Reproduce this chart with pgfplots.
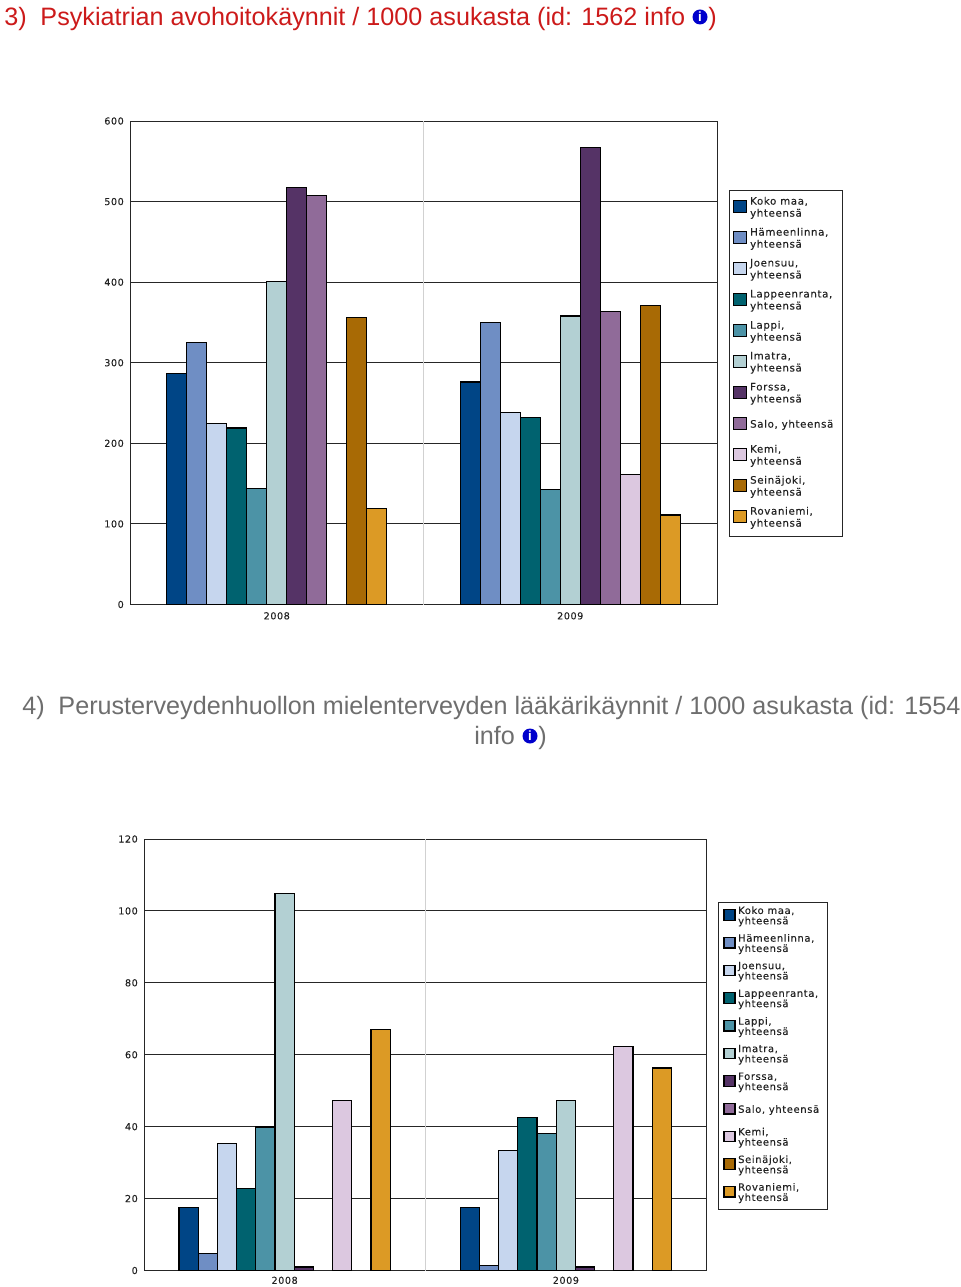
\documentclass[border=0pt]{standalone}
\usepackage{fontspec}
\usepackage{pgfplots}
\pgfplotsset{compat=1.18}
\setmainfont{Liberation Sans}
\newfontfamily\chartfont[LetterSpace=6,FakeBold=0.15]{DejaVu Sans}
\newdimen\px \px=0.75pt

\definecolor{cKoko}{HTML}{004586}
\definecolor{cHame}{HTML}{6F8EC4}
\definecolor{cJoen}{HTML}{C6D6EE}
\definecolor{cLapp}{HTML}{00626F}
\definecolor{cLappi}{HTML}{4C93A6}
\definecolor{cImat}{HTML}{B3D0D3}
\definecolor{cFors}{HTML}{553366}
\definecolor{cSalo}{HTML}{906B99}
\definecolor{cKemi}{HTML}{DCC8E0}
\definecolor{cSein}{HTML}{A86A05}
\definecolor{cRova}{HTML}{DC9A25}
\definecolor{tickcol}{HTML}{222222}
\definecolor{titlered}{HTML}{CC1A1A}
\definecolor{titlegray}{HTML}{6E6E6E}

\newcommand{\twoline}[2]{\parbox[c][\legrow][c]{\legwd}{\lineskiplimit=-5pt\baselineskip=\leglead #1\par #2}}
\newcommand{\infoicon}[2]{%
  \node[circle,fill=blue!80!black,inner sep=0pt,minimum size=15\px,text=white,font=\fontsize{10}{10}\selectfont\bfseries] at (#1\px,-#2\px) {i};}

\pgfplotsset{
  chart/.style={
    scale only axis,
    ybar=0pt,
    xmin=-0.5, xmax=1.5,
    xtick={0,1},
    xticklabels={2008,2009},
    major tick length=0pt,
    ymin=0,
    ymajorgrids,
    major grid style={draw=black!85,line width=1\px},
    extra x ticks={0.5},
    extra x tick labels={},
    extra x tick style={xmajorgrids=true,major grid style={draw=black!18,line width=1\px}},
    axis line style={draw=black!85,line width=1\px},
    tick label style={font=\chartfont\fontsize{7.2}{8}\selectfont,text=tickcol,/pgf/number format/assume math mode=true},
    yticklabel style={xshift=-1.5\px},
    legend cell align=left,
    every axis plot/.append style={draw=black,line width=1.2\px},
  },
}

\begin{document}
\begin{tikzpicture}[x=1pt,y=1pt]
\useasboundingbox (0,0) rectangle (960\px,-1287\px);

% titles
\node[anchor=base west,inner sep=0pt,text=titlered,font=\fontsize{18.88}{22}\selectfont] at (4\px,-25.7\px) {3)\hspace{0.55em}Psykiatrian avohoitokäynnit / 1000 asukasta (id: 1562 info};
\infoicon{700}{17}
\node[anchor=base west,inner sep=0pt,text=titlered,font=\fontsize{18.88}{22}\selectfont] at (708\px,-25.7\px) {)};

\node[anchor=base west,inner sep=0pt,text=titlegray,font=\fontsize{18.88}{22}\selectfont] at (22\px,-714\px) {4)\hspace{0.55em}Perusterveydenhuollon mielenterveyden lääkärikäynnit / 1000 asukasta (id: 1554};
\node[anchor=base west,inner sep=0pt,text=titlegray,font=\fontsize{18.88}{22}\selectfont] at (474\px,-744\px) {info};
\infoicon{530}{736}
\node[anchor=base west,inner sep=0pt,text=titlegray,font=\fontsize{18.88}{22}\selectfont] at (538\px,-744\px) {)};

% legend frames
\draw[draw=black!85,line width=1\px] (729\px,-191\px) rectangle (842\px,-536\px);
\draw[draw=black!85,line width=1\px] (718\px,-902\px) rectangle (827\px,-1209\px);

% chart 3
\def\legrow{24\px}\def\legwd{84\px}\def\leglead{12\px}
\begin{axis}[chart,
  at={(130\px,-604.5\px)}, anchor=south west,
  width=587\px, height=483.5\px,
  bar width=20\px,
  ymax=600, ytick={0,100,...,600},
  xticklabel style={yshift=-3\px},
  legend image code/.code={\draw[#1,line width=1.2\px] (0,-8\px) rectangle (13\px,4\px);},
  legend style={at={(1.0187,0.8555)},anchor=north west,draw=none,fill=none,
    font=\chartfont\fontsize{7.7}{8}\selectfont,text=tickcol,inner xsep=5\px,inner ysep=2\px,
    row sep=9\px},
]
\addplot[fill=cKoko] coordinates {(0,287) (1,276)};
\addplot[fill=cHame] coordinates {(0,325) (1,350)};
\addplot[fill=cJoen] coordinates {(0,225) (1,238)};
\addplot[fill=cLapp] coordinates {(0,219) (1,232)};
\addplot[fill=cLappi] coordinates {(0,144) (1,143)};
\addplot[fill=cImat] coordinates {(0,401) (1,358)};
\addplot[fill=cFors] coordinates {(0,517) (1,567)};
\addplot[fill=cSalo] coordinates {(0,508) (1,364)};
\addplot[fill=cKemi] coordinates {(1,161)};
\addplot[fill=cSein] coordinates {(0,356) (1,371)};
\addplot[fill=cRova] coordinates {(0,119) (1,111)};
\legend{\twoline{Koko maa,}{yhteensä},\twoline{Hämeenlinna,}{yhteensä},\twoline{Joensuu,}{yhteensä},\twoline{Lappeenranta,}{yhteensä},\twoline{Lappi,}{yhteensä},\twoline{Imatra,}{yhteensä},\twoline{Forssa,}{yhteensä},\twoline{Salo, yhteensä}{},\twoline{Kemi,}{yhteensä},\twoline{Seinäjoki,}{yhteensä},\twoline{Rovaniemi,}{yhteensä}}
\end{axis}

% chart 4
\def\legrow{20.6\px}\def\legwd{81\px}\def\leglead{10.3\px}
\begin{axis}[chart,
  at={(144\px,-1270.5\px)}, anchor=south west,
  width=562.5\px, height=431.5\px,
  bar width=19.2\px,
  ymax=120, ytick={0,20,...,120},
  xticklabel style={yshift=-1.5\px},
  legend image code/.code={\draw[#1,line width=1.2\px] (0,-7\px) rectangle (11\px,3.5\px);},
  legend style={at={(1.0205,0.856)},anchor=north west,draw=none,fill=none,
    font=\chartfont\fontsize{7.5}{8}\selectfont,text=tickcol,inner xsep=5\px,inner ysep=2\px,
    row sep=7.7\px},
]
\addplot[fill=cKoko] coordinates {(0,17.5) (1,17.5)};
\addplot[fill=cHame] coordinates {(0,4.7) (1,1.5)};
\addplot[fill=cJoen] coordinates {(0,35.3) (1,33.4)};
\addplot[fill=cLapp] coordinates {(0,22.7) (1,42.5)};
\addplot[fill=cLappi] coordinates {(0,39.9) (1,38)};
\addplot[fill=cImat] coordinates {(0,104.8) (1,47.3)};
\addplot[fill=cFors] coordinates {(0,1) (1,1)};
\addplot[fill=cSalo] coordinates {(2,0)};
\addplot[fill=cKemi] coordinates {(0,47.3) (1,62.3)};
\addplot[fill=cSein] coordinates {(2,0)};
\addplot[fill=cRova] coordinates {(0,67) (1,56.3)};
\legend{\twoline{Koko maa,}{yhteensä},\twoline{Hämeenlinna,}{yhteensä},\twoline{Joensuu,}{yhteensä},\twoline{Lappeenranta,}{yhteensä},\twoline{Lappi,}{yhteensä},\twoline{Imatra,}{yhteensä},\twoline{Forssa,}{yhteensä},\twoline{Salo, yhteensä}{},\twoline{Kemi,}{yhteensä},\twoline{Seinäjoki,}{yhteensä},\twoline{Rovaniemi,}{yhteensä}}
\end{axis}
\end{tikzpicture}
\end{document}
